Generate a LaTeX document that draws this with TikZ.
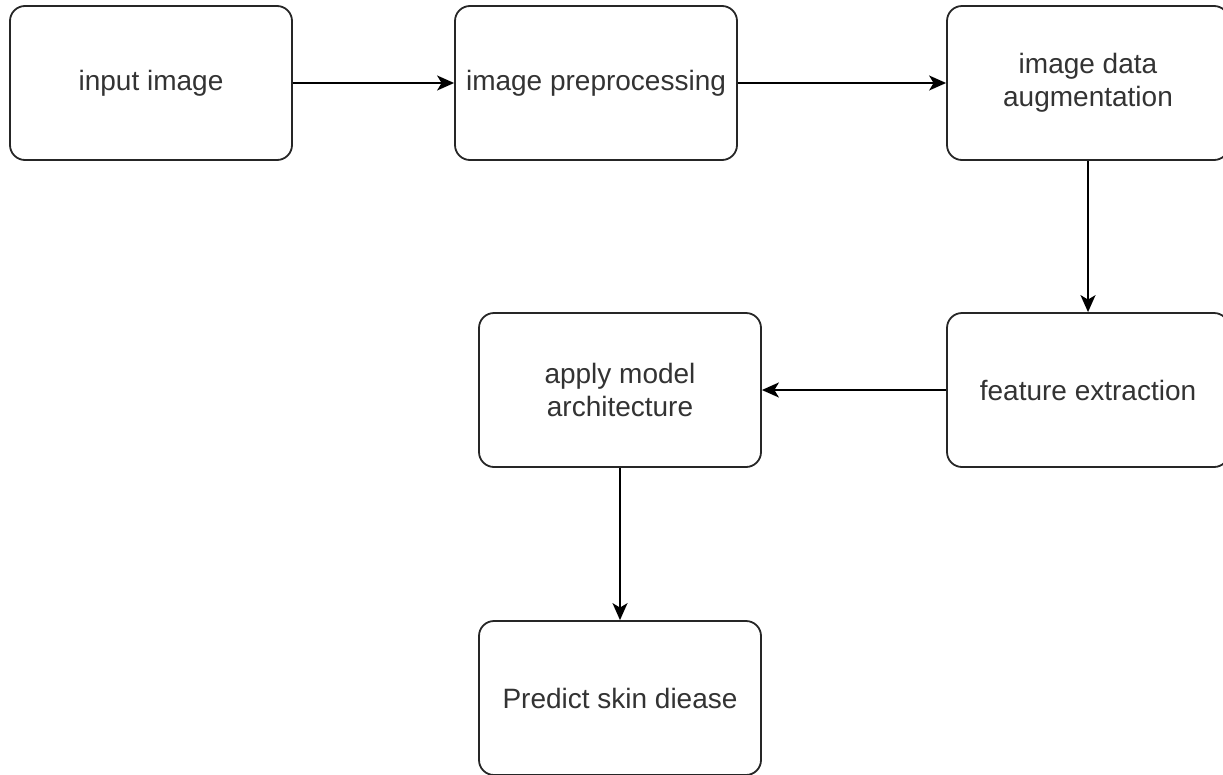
\documentclass[tikz,border=0pt]{standalone}
\usepackage{fontspec}
\setmainfont{Liberation Sans}
\usetikzlibrary{arrows.meta}
\begin{document}
\begin{tikzpicture}[x=1pt,y=-1pt,
  stepbox/.style={draw=black!85, line width=1.8pt, rounded corners=15pt,
    minimum width=282pt, minimum height=154pt, inner sep=0pt,
    align=center, text=black!80, fill=white,
    font=\fontsize{28}{33}\selectfont},
  flow/.style={draw=black, line width=1.8pt,
    -{Stealth[length=17pt,width=15pt,inset=4.5pt]}}]
\useasboundingbox (0,0) rectangle (1223,774);
\fill[white] (0,0) rectangle (1223,774);

\node[stepbox] (inp)  at (151,83)   {input image};
\node[stepbox] (prep) at (596,83)   {image preprocessing};
\node[stepbox] (aug)  at (1088,83)  {image data\\augmentation};
\node[stepbox] (feat) at (1088,390) {feature extraction};
\node[stepbox] (model) at (620,390) {apply model\\architecture};
\node[stepbox] (pred) at (620,698)  {Predict skin diease};

\draw[flow] (inp.east) -- (prep.west);
\draw[flow] (prep.east) -- (aug.west);
\draw[flow] (aug.south) -- (feat.north);
\draw[flow] (feat.west) -- (model.east);
\draw[flow] (model.south) -- (pred.north);
\end{tikzpicture}
\end{document}
